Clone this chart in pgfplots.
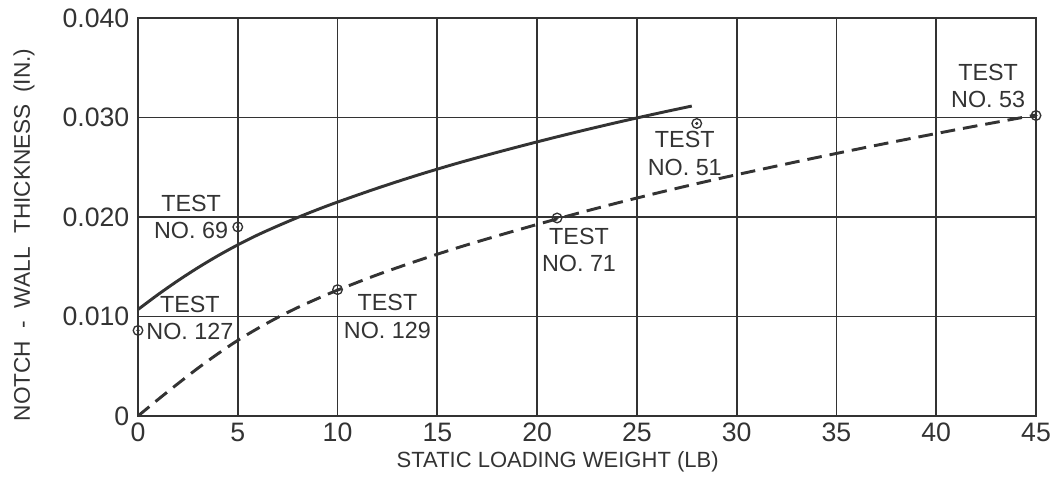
\documentclass[border=0pt]{standalone}
\usepackage{fontspec}
\setmainfont{Liberation Sans}
\usepackage{pgfplots}
\usepackage{pgfplotstable}
\pgfplotsset{compat=1.18}
\definecolor{ink}{HTML}{333333}
% thickness in inches
\pgfplotstableread{
x y
0 0.0107
1 0.0122
2 0.0136
3 0.0149
4 0.0161
5 0.0172
6 0.0182
7 0.0191
8 0.01995
9 0.02075
10 0.0215
12 0.0229
14 0.0242
16 0.0254
18 0.0265
20 0.02755
22 0.02855
24 0.0295
26 0.0304
27.75 0.03115
}\solid
\pgfplotstableread{
x y
0 0
1 0.00165
2 0.00325
3 0.0048
4 0.00625
5 0.0076
6 0.0088
7 0.0099
8 0.0109
9 0.0118
10 0.01265
12 0.0142
14 0.0156
16 0.0169
18 0.0181
20 0.01925
22 0.02035
24 0.0214
26 0.0224
28 0.02335
30 0.02425
33 0.02555
36 0.0268
39 0.0280
42 0.02915
45 0.03025
}\dashed
\pgfplotstableread{
x y
0 0.0086
5 0.0190
10 0.0127
21 0.0199
28 0.0294
45 0.0302
}\tests
\newcommand\lab{\fontsize{17.5}{20.5}\selectfont}
\begin{document}
\begin{tikzpicture}[font=\lab]
\begin{axis}[
  scale only axis,
  width=673.5pt, height=298.5pt,
  xmin=0, xmax=45, ymin=0, ymax=40,
  xtick={0,5,...,45},
  ytick={0,10,20,30,40},
  yticklabels={0,0.010,0.020,0.030,0.040},
  /pgf/number format/assume math mode=true,
  tick label style={font=\fontsize{20}{22}\selectfont, text=ink},
  major tick length=0pt,
  grid=major,
  grid style={ink, line width=1.3pt},
  axis line style={ink, line width=1.4pt},
  xticklabel style={yshift=-2pt},
  yticklabel style={xshift=-3pt},
  xlabel={STATIC LOADING WEIGHT (LB)},
  ylabel={NOTCH\hspace{0.55em}-\hspace{0.55em}WALL\hspace{0.6em}THICKNESS\hspace{0.5em}(IN.)},
  label style={text=ink},
  xlabel style={font=\fontsize{16.5}{18}\selectfont, xshift=-22pt, yshift=0pt},
  ylabel style={font=\fontsize{17}{19}\selectfont, at={(axis description cs:-0.127,0.455)}, anchor=center},
  every node/.append style={font=\lab},
  clip=false,
]
\addplot[ink, line width=2.2pt, smooth, no marks] table[x=x, y expr=1000*\thisrow{y}] {\solid};
\addplot[ink, line width=2.2pt, smooth, no marks, dash pattern=on 11pt off 6pt] table[x=x, y expr=1000*\thisrow{y}] {\dashed};
\addplot[only marks, mark=o, mark size=3.6pt, mark options={ink, line width=1pt, fill=white}] table[x=x, y expr=1000*\thisrow{y}] {\tests};
\addplot[only marks, mark=*, mark size=1pt, mark options={ink}] table[x=x, y expr=1000*\thisrow{y}] {\tests};
% labels (y in thousandths of an inch)
\node[align=center, text=ink, inner sep=0pt, font=\lab] at (axis cs:2.66,20.0) {TEST\\NO. 69};
\node[align=center, text=ink, inner sep=0pt, font=\lab] at (axis cs:2.6,9.86) {TEST\\NO. 127};
\node[align=center, text=ink, inner sep=0pt, font=\lab] at (axis cs:12.5,10.0) {TEST\\NO. 129};
\node[align=center, text=ink, inner sep=0pt, font=\lab] at (axis cs:22.1,16.7) {TEST\\NO. 71};
\node[align=center, text=ink, inner sep=0pt, font=\lab] at (axis cs:27.4,26.4) {TEST\\NO. 51};
\node[align=center, text=ink, inner sep=0pt, font=\lab] at (axis cs:42.6,33.2) {TEST\\NO. 53};
\end{axis}
\pgfresetboundingbox
\path (current axis.south west) ++(-103.5pt,-51pt) rectangle ++(789pt,363pt);
\end{tikzpicture}
\end{document}
